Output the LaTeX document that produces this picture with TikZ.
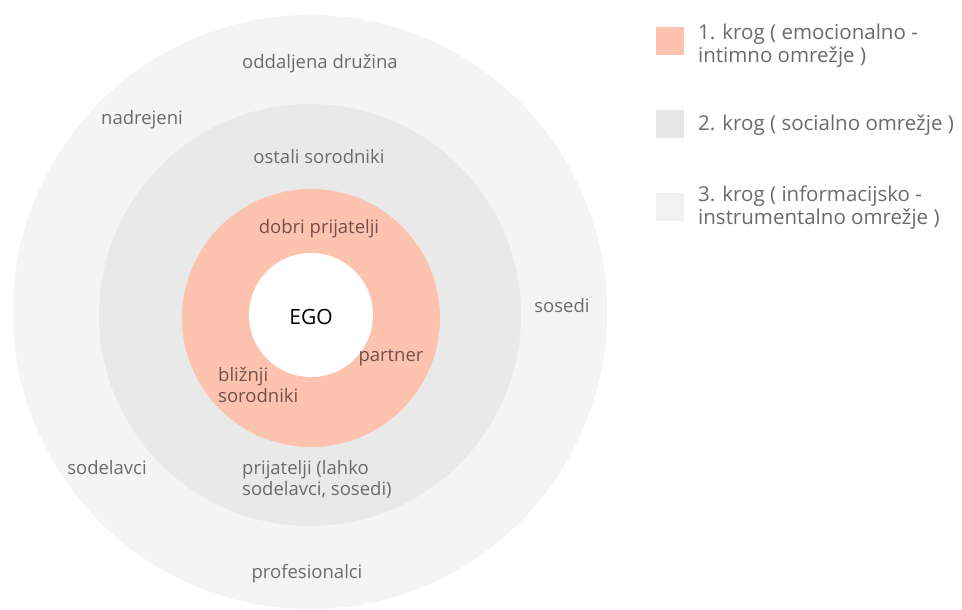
\documentclass[tikz,border=0pt]{standalone}
\usepackage{fontspec}
\setmainfont{Open Sans}
\definecolor{ringA}{HTML}{F4F4F4}
\definecolor{ringB}{HTML}{E9E9E9}
\definecolor{ringC}{HTML}{FDC3AE}
\definecolor{sqB}{HTML}{E6E6E6}
\definecolor{sqC}{HTML}{F1F1F1}
\definecolor{txtgray}{HTML}{6B6B6B}
\definecolor{txtbrown}{HTML}{74504A}
\tikzset{
  lbl/.style={font=\fontsize{18.5}{21}\selectfont, text=txtgray, inner sep=0pt},
  lblin/.style={font=\fontsize{18.5}{21}\selectfont, text=txtbrown, inner sep=0pt},
  leg/.style={font=\fontsize{20.5}{23}\selectfont, text=txtgray, inner sep=0pt, anchor=west, align=left},
  sq/.style={minimum size=28pt, inner sep=0pt, draw=none}
}
\begin{document}
\begin{tikzpicture}[x=1pt,y=-1pt]
\useasboundingbox (0,0) rectangle (962,610);
\fill[white] (0,0) rectangle (962,610);
% rings
\fill[ringA] (310,312) circle (297);
\fill[ringB] (310,315) circle (211);
\fill[ringC] (311,318) circle (129);
\fill[white] (311,315) circle (62);
% outer ring labels
\node[lbl] (odd) at (320,64) {oddaljena družina};
\node[lbl] (nad) at (142,120) {nadrejeni};
\node[lbl] (sos) at (562,306) {sosedi};
\node[lbl] (sod) at (107,468) {sodelavci};
\node[lbl] (pro) at (307,574) {profesionalci};
% middle ring labels
\node[lbl] (ost) at (319,157) {ostali sorodniki};
\node[lbl, anchor=west, align=left] (pri) at (242,479) {prijatelji (lahko\\sodelavci, sosedi)};
% inner ring labels
\node[lblin] (dob) at (319,229) {dobri prijatelji};
\node[lblin] (par) at (391,358) {partner};
\node[lblin, anchor=west, align=left] (bli) at (218,385) {bližnji\\sorodniki};
\node[font=\fontsize{21}{24}\selectfont, text=black, inner sep=0pt] (ego) at (311,317) {EGO};
% legend
\node[sq, fill=ringC] (s1) at (670,41) {};
\node[sq, fill=sqB] (s2) at (670,124) {};
\node[sq, fill=sqC] (s3) at (670,207) {};
\node[leg] (l1) at (698,46) {1. krog ( emocionalno -\\intimno omrežje )};
\node[leg] (l2) at (698,125) {2. krog ( socialno omrežje )};
\node[leg] (l3) at (698,208) {3. krog ( informacijsko -\\instrumentalno omrežje )};
\end{tikzpicture}
\end{document}
